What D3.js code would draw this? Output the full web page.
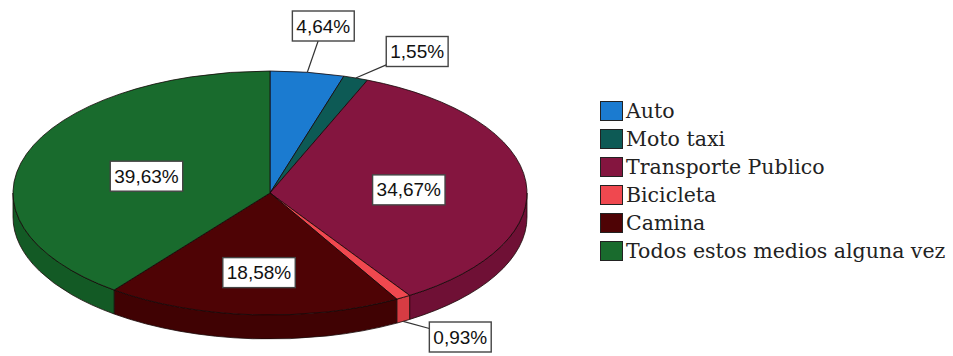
<!DOCTYPE html>
<html>
<head>
<meta charset="utf-8">
<script src="https://cdn.jsdelivr.net/npm/d3@7"></script>
<style>
  html, body { margin: 0; padding: 0; background: #ffffff; }
  svg { display: block; }
</style>
</head>
<body>
<svg id="chart" width="953" height="356"></svg>
<script>
// Modo de transporte habitual (porcentaje de respuestas)
const categories = ["Auto", "Moto taxi", "Transporte Publico", "Bicicleta", "Camina", "Todos estos medios alguna vez"];
const percentages = [4.64, 1.55, 34.67, 0.93, 18.58, 39.63];
const valueLabels = ["4,64%", "1,55%", "34,67%", "0,93%", "18,58%", "39,63%"];
const topColors = ["#1b7bd0", "#0d5a55", "#84153f", "#f0484f", "#4e0305", "#196b2d"];
const sideColors = ["#1667b0", "#0a4a46", "#6f1035", "#d63c43", "#400203", "#135a25"];

const W = 953, H = 356;
const cx = 270, cy = 193, rx = 257, ry = 122, depth = 24;

const svg = d3.select("#chart");

const pie = d3.pie().sort(null).value(d => d.value).startAngle(0).endAngle(2 * Math.PI);
const data = categories.map((c, i) => ({ name: c, value: percentages[i], label: valueLabels[i], top: topColors[i], side: sideColors[i] }));
const arcs = pie(data);

// point on the top ellipse, angle measured clockwise from 12 o'clock
const pt = (a, dy = 0) => [cx + rx * Math.sin(a), cy - ry * Math.cos(a) + dy];

function topPath(d) {
  const p0 = pt(d.startAngle), p1 = pt(d.endAngle);
  const large = (d.endAngle - d.startAngle) > Math.PI ? 1 : 0;
  return `M${cx},${cy}L${p0[0]},${p0[1]}A${rx},${ry} 0 ${large} 1 ${p1[0]},${p1[1]}Z`;
}

function sidePath(d) {
  const s = Math.max(d.startAngle, Math.PI / 2);
  const e = Math.min(d.endAngle, 3 * Math.PI / 2);
  if (s >= e) return null;
  const a = pt(s), b = pt(e), b2 = pt(e, depth), a2 = pt(s, depth);
  return `M${a[0]},${a[1]}A${rx},${ry} 0 0 1 ${b[0]},${b[1]}L${b2[0]},${b2[1]}A${rx},${ry} 0 0 0 ${a2[0]},${a2[1]}Z`;
}

const gPie = svg.append("g");

// outer walls of the front half
gPie.selectAll("path.side")
  .data(arcs.filter(d => sidePath(d)))
  .join("path")
  .attr("class", "side")
  .attr("d", sidePath)
  .attr("fill", d => d.data.side)
  .attr("stroke", "#1a0a0a")
  .attr("stroke-width", 0.8)
  .attr("stroke-linejoin", "round");

// top faces
gPie.selectAll("path.top")
  .data(arcs)
  .join("path")
  .attr("class", "top")
  .attr("d", topPath)
  .attr("fill", d => d.data.top)
  .attr("stroke", "#140808")
  .attr("stroke-width", 0.8)
  .attr("stroke-linejoin", "round");

// value labels
const gLab = svg.append("g").attr("font-family", "'Liberation Sans', Arial, sans-serif").attr("font-size", 19);
const boxH = 30, padX = 4;
const placed = [];

arcs.forEach(d => {
  const mid = (d.startAngle + d.endAngle) / 2;
  const half = (d.endAngle - d.startAngle) / 2;
  const t = gLab.append("text").text(d.data.label).attr("fill", "#111");
  const tw = t.node().getComputedTextLength();
  const bw = tw + 2 * padX;
  let lx, ly, edge = null;
  if (d.data.value > 10) {
    // area centroid of the elliptical sector
    const f = (2 / 3) * Math.sin(half) / half;
    lx = cx + rx * f * Math.sin(mid);
    ly = cy - ry * f * Math.cos(mid) + 3;
  } else {
    const front = Math.cos(mid) < 0;
    edge = pt(mid, front ? depth : 0);
    lx = edge[0] + Math.sin(mid) * 110;
    ly = edge[1] - Math.cos(mid) * 48;
    // stagger neighbouring outside labels downwards
    placed.filter(p => p.outside).forEach(p => {
      if (Math.abs(p.x - lx) < (p.w + bw) / 2 + 40 && Math.abs(p.y - ly) < boxH * 0.85) {
        ly = p.y + boxH * 0.85;
        lx = Math.max(lx, p.x + p.w / 2 + bw / 2 + 32);
      }
    });
    ly = Math.max(boxH / 2 + 11, Math.min(H - boxH / 2 - 4, ly));
  }
  placed.push({ x: lx, y: ly, w: bw, outside: !!edge });
  if (edge) {
    // leader from the slice edge to the box border
    const dx = lx - edge[0], dy = ly - edge[1];
    const k = Math.min((bw / 2) / Math.abs(dx || 1e-6), (boxH / 2) / Math.abs(dy || 1e-6));
    const ex = lx - dx * k, ey = ly - dy * k;
    gLab.insert("line", "text")
      .attr("x1", edge[0]).attr("y1", edge[1]).attr("x2", ex).attr("y2", ey)
      .attr("stroke", "#333").attr("stroke-width", 1.2);
  }
  gLab.insert("rect", "text")
    .attr("x", lx - bw / 2).attr("y", ly - boxH / 2)
    .attr("width", bw).attr("height", boxH)
    .attr("fill", "#ffffff").attr("stroke", "#444").attr("stroke-width", 1.4);
  t.attr("x", lx).attr("y", ly).attr("text-anchor", "middle").attr("dominant-baseline", "central");
});

// legend
const legend = svg.append("g").attr("transform", "translate(600,101)");
const rowH = 28;
const rows = legend.selectAll("g").data(data).join("g")
  .attr("transform", (d, i) => `translate(0,${i * rowH})`);
rows.append("rect")
  .attr("x", 0.5).attr("y", 0.5).attr("width", 22).attr("height", 19)
  .attr("fill", d => d.top).attr("stroke", "#222").attr("stroke-width", 1);
rows.append("text")
  .attr("x", 26).attr("y", 10).attr("dominant-baseline", "central")
  .attr("font-family", "'DejaVu Serif', serif").attr("font-size", 20.5)
  .attr("fill", "#222")
  .text(d => d.name);
</script>
</body>
</html>
